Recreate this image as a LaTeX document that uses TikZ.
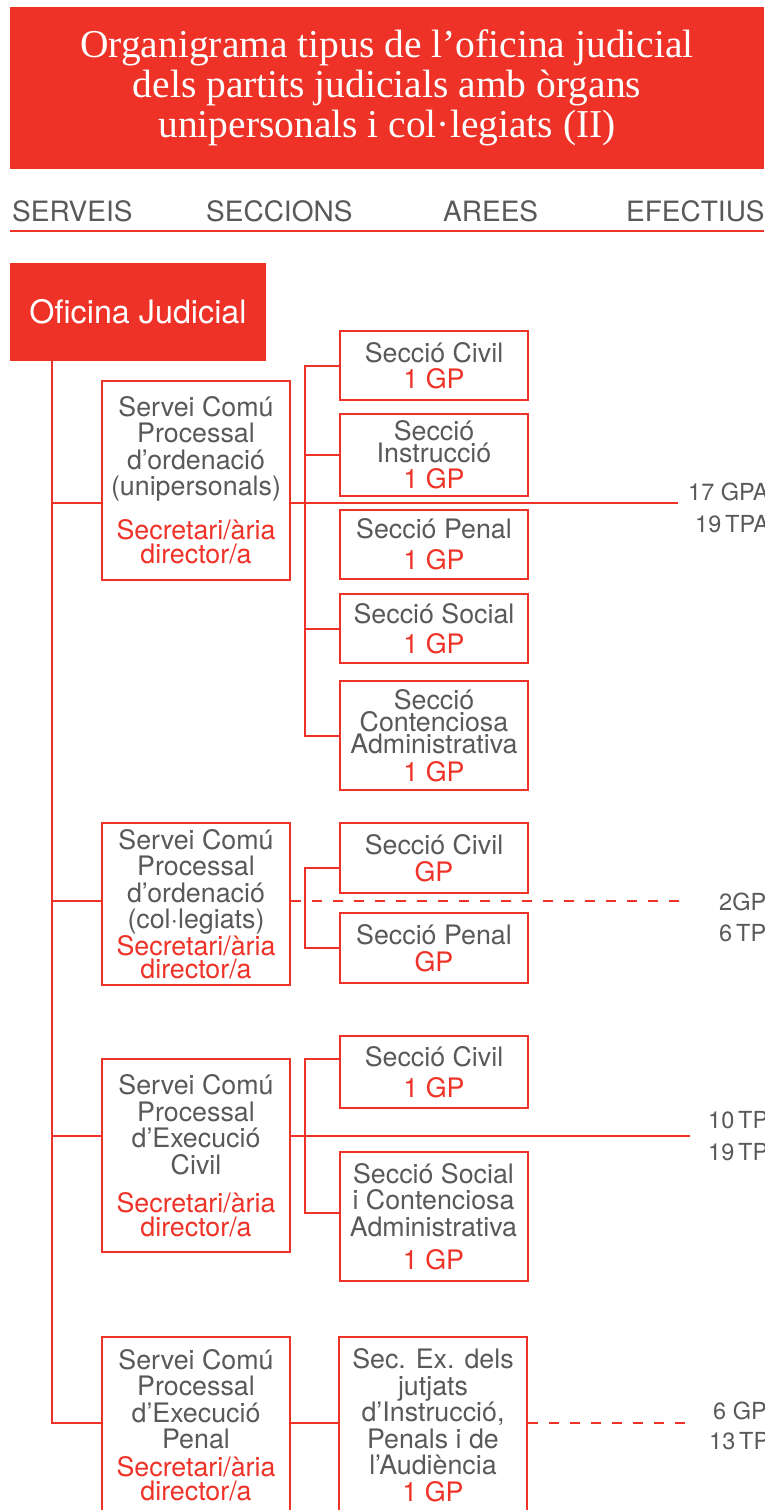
\documentclass[tikz,border=0pt]{standalone}
\usepackage{fontspec}
\newfontfamily\hv{TeX Gyre Heros}
\newfontfamily\ttlfont{Liberation Serif}
\definecolor{ojred}{RGB}{238,50,39}
\definecolor{ojgray}{RGB}{88,89,91}
\newcommand\rd[1]{\textcolor{ojred}{#1}}

\begin{document}
\begin{tikzpicture}[x=1pt,y=-1pt,
  link/.style={draw=ojred,line width=2pt},
  dlink/.style={link,dash pattern=on 10pt off 11pt},
  unit/.style={draw=ojred,line width=2pt,fill=white,align=center,inner sep=0pt,
    text=ojgray,font=\hv\fontsize{26.8}{26.5}\selectfont},
  servei/.style={unit,minimum width=188pt},
  seccio/.style={unit,minimum width=188pt},
  coltitle/.style={anchor=base west,text=ojgray,inner sep=0pt,font=\hv\fontsize{28}{30}\selectfont},
  efectiu/.style={anchor=west,text=ojgray,inner sep=0pt,font=\hv\fontsize{23.5}{26}\selectfont}
]
\useasboundingbox (0,0) rectangle (764,1510);
\clip (0,0) rectangle (764,1510);

% title banner
\node[fill=ojred,minimum width=754pt,minimum height=162pt,inner sep=0pt,
  text=white,align=center,font=\ttlfont\fontsize{39.5}{40}\selectfont]
  (title) at (387,88)
  {Organigrama tipus de l’oficina judicial\\dels partits judicials amb òrgans\\unipersonals i col·legiats (II)};

% column headings
\node[coltitle] (hserv) at (12,221) {SERVEIS};
\node[coltitle] (hsecc) at (206,221) {SECCIONS};
\node[coltitle] (harea) at (443,221) {AREES};
\node[coltitle] (hefec) at (626,221) {EFECTIUS};
\draw[draw=ojred,line width=1.6pt] (10,231) -- (764,231);

% root
\node[fill=ojred,minimum width=256pt,minimum height=98pt,inner sep=0pt,
  text=white,font=\hv\fontsize{32.3}{34}\selectfont] (oj) at (138,312) {Oficina Judicial};

% services
\node[servei,minimum height=199pt] (s1) at (196,480.5)
  {Servei Comú\\Processal\\d’ordenació\\(unipersonals)\\[17.5pt]\rd{Secretari/ària}\\[-2.5pt]\rd{director/a}};
\node[servei,minimum height=162pt] (s2) at (196,904)
  {Servei Comú\\Processal\\d’ordenació\\(col·legiats)\\\rd{Secretari/ària}\\[-3pt]\rd{director/a}};
\node[servei,minimum height=193pt] (s3) at (196,1155.5)
  {Servei Comú\\Processal\\d’Execució\\Civil\\[11.5pt]\rd{Secretari/ària}\\[-2.5pt]\rd{director/a}};
\node[servei,minimum height=176pt] (s4) at (196,1425)
  {Servei Comú\\Processal\\d’Execució\\Penal\\[1pt]\rd{Secretari/ària}\\[-2.5pt]\rd{director/a}};

% sections, first service
\node[seccio,minimum height=69pt] (c1) at (434,365.5) {Secció Civil\\\rd{1 GP}};
\node[seccio,minimum height=82pt] (c2) at (434,455) {Secció\\[-5pt]Instrucció\\\rd{1 GP}};
\node[seccio,minimum height=69pt] (c3) at (434,544.5) {Secció Penal\\[4.5pt]\rd{1 GP}};
\node[seccio,minimum height=69pt] (c4) at (434,628.5) {Secció Social\\[3.5pt]\rd{1 GP}};
\node[seccio,minimum height=109pt] (c5) at (434,735.5) {Secció\\[-5pt]Contenciosa\\[-4.5pt]Administrativa\\[1.5pt]\rd{1 GP}};

% sections, second service
\node[seccio,minimum height=70pt] (d1) at (434,858) {Secció Civil\\\rd{GP}};
\node[seccio,minimum height=70pt] (d2) at (434,948) {Secció Penal\\\rd{GP}};

% sections, third service
\node[seccio,minimum height=72pt] (e1) at (434,1072) {Secció Civil\\[4.5pt]\rd{1 GP}};
\node[seccio,minimum height=129pt] (e2) at (433.5,1216.5) {Secció Social\\i Contenciosa\\Administrativa\\[6.5pt]\rd{1 GP}};

% section, fourth service
\node[seccio,minimum height=176pt] (f1) at (433,1425)
  {Sec. Ex. dels\\jutjats\\d’Instrucció,\\Penals i de\\l’Audiència\\\rd{1 GP}};

% staff figures
\node[efectiu] (n1a) at (688,492) {17 GPA};
\node[efectiu] (n1b) at (695,524) {19\,TPA};
\node[efectiu] (n2a) at (719,902) {2GP};
\node[efectiu] (n2b) at (719,933) {6\,TP};
\node[efectiu] (n3a) at (708,1120) {10\,TP};
\node[efectiu] (n3b) at (708,1152) {19\,TP};
\node[efectiu] (n4a) at (713,1411) {6 GP};
\node[efectiu] (n4b) at (709,1441) {13\,TP};

% branch levels and ends
\coordinate (trunk) at (52,0);
\coordinate (b1) at (0,503);
\coordinate (b2) at (0,901);
\coordinate (b3) at (0,1136);
\coordinate (b4) at (0,1423);
\coordinate (g) at (305,0);
\coordinate (r1) at (678,503);
\coordinate (r2) at (690,901);
\coordinate (r3) at (690,1136);
\coordinate (r4) at (693,1423);

% trunk from the root to every service
\draw[link] (oj.south -| trunk) |- (s4.west |- b4);
\draw[link] (trunk |- b1) -- (s1.west |- b1);
\draw[link] (trunk |- b2) -- (s2.west |- b2);
\draw[link] (trunk |- b3) -- (s3.west |- b3);

% first service
\draw[link] (c1.west) -| (g |- c5.west) -- (c5.west);
\draw[link] (g |- c2.west) -- (c2.west);
\draw[link] (g |- c4.west) -- (c4.west);
\draw[link] (s1.east |- b1) -- (r1);

% second service
\draw[link] (d1.west |- 0,868) -| (g |- d2.west) -- (d2.west);
\draw[dlink] (s2.east |- b2) -- (r2);

% third service
\draw[link] (e1.west |- 0,1059) -| (g |- 0,1213) -- (e2.west |- 0,1213);
\draw[link] (s3.east |- b3) -- (r3);

% fourth service
\draw[link] (s4.east |- b4) -- (f1.west |- b4);
\draw[dlink] (f1.east |- b4) -- (r4);
\end{tikzpicture}
\end{document}
